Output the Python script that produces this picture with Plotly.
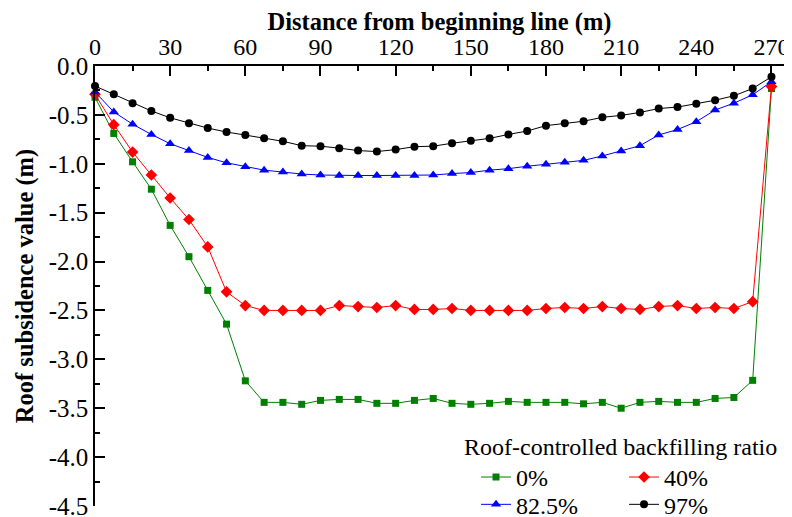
import plotly.graph_objects as go

distance = [0, 7.5, 15, 22.5, 30, 37.5, 45, 52.5, 60, 67.5, 75, 82.5, 90, 97.5,
            105, 112.5, 120, 127.5, 135, 142.5, 150, 157.5, 165, 172.5, 180, 187.5,
            195, 202.5, 210, 217.5, 225, 232.5, 240, 247.5, 255, 262.5, 270]

ratio_0 = [-0.32, -0.69, -0.98, -1.26, -1.63, -1.95, -2.295, -2.64, -3.22, -3.44,
           -3.44, -3.46, -3.42, -3.41, -3.41, -3.45, -3.45, -3.42, -3.40, -3.45,
           -3.46, -3.45, -3.43, -3.44, -3.44, -3.44, -3.455, -3.44, -3.50, -3.44,
           -3.43, -3.44, -3.44, -3.40, -3.39, -3.215, -0.23]

ratio_40 = [-0.29, -0.60, -0.88, -1.115, -1.35, -1.57, -1.85, -2.31, -2.45, -2.50,
            -2.50, -2.50, -2.50, -2.45, -2.46, -2.47, -2.45, -2.49, -2.49, -2.48,
            -2.50, -2.50, -2.50, -2.50, -2.48, -2.47, -2.48, -2.46, -2.48, -2.49,
            -2.46, -2.45, -2.48, -2.47, -2.48, -2.41, -0.21]

ratio_82_5 = [-0.265, -0.47, -0.595, -0.70, -0.795, -0.865, -0.935, -0.99, -1.03, -1.065,
              -1.085, -1.105, -1.115, -1.12, -1.12, -1.12, -1.12, -1.12, -1.115, -1.10,
              -1.09, -1.065, -1.05, -1.025, -1.005, -0.985, -0.965, -0.92, -0.87, -0.815,
              -0.705, -0.65, -0.57, -0.45, -0.38, -0.295, -0.16]

ratio_97 = [-0.205, -0.29, -0.38, -0.46, -0.53, -0.585, -0.635, -0.675, -0.705, -0.74,
            -0.77, -0.815, -0.82, -0.84, -0.865, -0.875, -0.855, -0.825, -0.82, -0.79,
            -0.765, -0.74, -0.70, -0.665, -0.61, -0.585, -0.565, -0.525, -0.505, -0.475,
            -0.435, -0.42, -0.385, -0.35, -0.305, -0.23, -0.11]

series_names = ["0%", "40%", "82.5%", "97%"]
series_values = [ratio_0, ratio_40, ratio_82_5, ratio_97]
series_colors = ["#008000", "#FF0000", "#0000FF", "#000000"]
series_symbols = ["square", "diamond", "triangle-up", "circle"]
series_sizes = [7, 9, 9, 8]
series_legends = ["legend", "legend", "legend2", "legend2"]

x_tick_vals = [0, 30, 60, 90, 120, 150, 180, 210, 240, 270]
y_tick_vals = [0.0, -0.5, -1.0, -1.5, -2.0, -2.5, -3.0, -3.5, -4.0, -4.5]
y_tick_labels = ["0.0", "-0.5", "-1.0", "-1.5", "-2.0", "-2.5", "-3.0", "-3.5", "-4.0", "-4.5"]

FONT = "Liberation Serif"

fig = go.Figure()
for name, vals, col, sym, sz, lg in zip(series_names, series_values, series_colors,
                                        series_symbols, series_sizes, series_legends):
    fig.add_trace(go.Scatter(
        x=distance, y=vals, name=name, mode="lines+markers",
        line=dict(color=col, width=1),
        marker=dict(symbol=sym, size=sz, color=col, line=dict(width=0)),
        cliponaxis=False, legend=lg,
    ))

legend_common = dict(
    orientation="h", xanchor="left", yanchor="top",
    entrywidth=89, entrywidthmode="pixels", indentation=14,
    font=dict(family=FONT, size=24, color="black"),
    bgcolor="rgba(0,0,0,0)", tracegroupgap=0, itemsizing="trace",
)

fig.update_layout(
    width=784, height=509,
    margin=dict(l=87, r=8, t=58, b=11, autoexpand=False),
    paper_bgcolor="white", plot_bgcolor="white",
    font=dict(family=FONT, size=24, color="black"),
    showlegend=True,
    legend=dict(x=0.5327, y=0.187,
                title=dict(text="Roof-controlled backfilling ratio", side="top",
                           font=dict(family=FONT, size=24, color="black")),
                **legend_common),
    legend2=dict(x=0.5327, y=0.054, **legend_common),
    xaxis=dict(
        side="top", range=[0, 275], showgrid=False, zeroline=False,
        showline=True, linecolor="black", linewidth=1.5,
        ticks="inside", ticklen=10, tickwidth=1.5, tickcolor="black",
        tickvals=x_tick_vals, ticklabeloverflow="allow",
        minor=dict(dtick=15, ticks="inside", ticklen=5, tickwidth=1.5, tickcolor="black"),
        tickfont=dict(family=FONT, size=24, color="black"),
        title=dict(text="Distance from beginning line (m)", standoff=5,
                   font=dict(family=FONT, size=24.5, weight="bold", color="black")),
    ),
    yaxis=dict(
        range=[-4.5, 0], showgrid=False, zeroline=False,
        showline=True, linecolor="black", linewidth=1.5,
        ticks="inside", ticklen=10, tickwidth=1.5, tickcolor="black",
        tickvals=y_tick_vals, ticktext=y_tick_labels, ticklabeloverflow="allow",
        minor=dict(dtick=0.25, ticks="inside", ticklen=5, tickwidth=1.5, tickcolor="black"),
        tickfont=dict(family=FONT, size=25, color="black"),
        title=dict(text="Roof subsidence value (m)", standoff=8,
                   font=dict(family=FONT, size=24.5, weight="bold", color="black")),
    ),
)

fig.write_html("out.html")
